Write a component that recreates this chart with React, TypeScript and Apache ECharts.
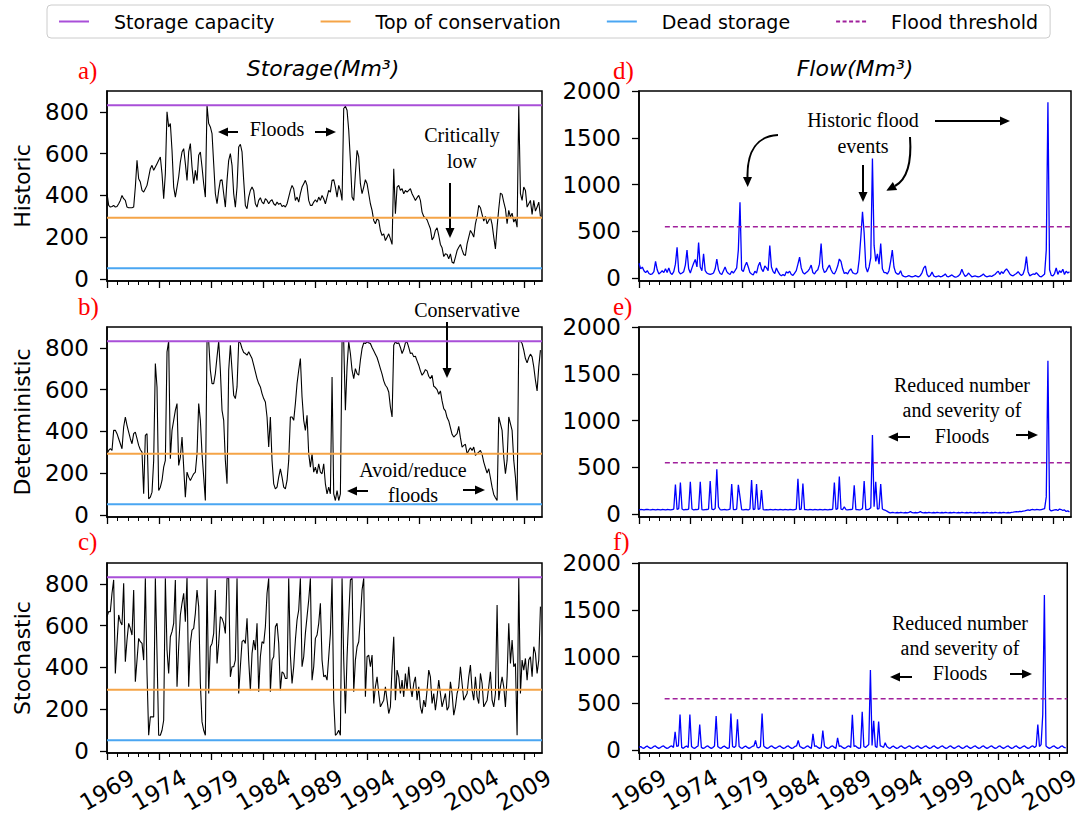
import React, { useEffect, useRef } from "react";
import * as echarts from "echarts";

// ---------- axes ----------
const START_YEAR = 1969;
const END_YEAR = 2010.75;
const STEP = 0.16; // sampling step of the series, in years

const yearTicks = [1969, 1974, 1979, 1984, 1989, 1994, 1999, 2004, 2009];
const minorYearTicks = [
  1969, 1970, 1971, 1972, 1973, 1974, 1975, 1976, 1977, 1978, 1979, 1980, 1981, 1982,
  1983, 1984, 1985, 1986, 1987, 1988, 1989, 1990, 1991, 1992, 1993, 1994, 1995, 1996,
  1997, 1998, 1999, 2000, 2001, 2002, 2003, 2004, 2005, 2006, 2007, 2008, 2009, 2010,
];
const storageTicks = [0, 200, 400, 600, 800];
const flowTicks = [0, 500, 1000, 1500, 2000];

// ---------- reference levels ----------
const STORAGE_CAPACITY = 832;
const TOP_OF_CONSERVATION = 293;
const DEAD_STORAGE = 51;
const FLOOD_THRESHOLD = 550;
const FLOOD_THRESHOLD_START = 1971.5;

// ---------- series (Mm3) ----------
const historicStorage = [
  410, 352, 344, 347, 352, 344, 347, 360, 376, 400,
  384, 376, 344, 341, 341, 341, 344, 440, 568, 480,
  464, 424, 416, 432, 448, 488, 528, 544, 520, 536,
  552, 568, 584, 504, 384, 504, 800, 728, 744, 616,
  440, 392, 440, 488, 560, 608, 624, 552, 472, 608,
  648, 536, 456, 520, 472, 592, 608, 536, 456, 392,
  832, 744, 728, 696, 552, 408, 360, 424, 472, 475,
  408, 344, 472, 568, 600, 544, 408, 344, 440, 632,
  645, 608, 472, 352, 336, 392, 424, 440, 424, 360,
  344, 376, 389, 368, 360, 384, 376, 360, 373, 379,
  360, 352, 368, 357, 363, 347, 352, 344, 360, 392,
  424, 448, 432, 376, 392, 368, 408, 440, 456, 472,
  448, 376, 352, 352, 368, 379, 368, 392, 376, 400,
  384, 360, 392, 424, 416, 472, 475, 440, 392, 448,
  424, 376, 816, 827, 808, 712, 568, 392, 376, 504,
  616, 584, 456, 408, 440, 475, 456, 408, 360, 328,
  280, 264, 288, 280, 232, 208, 216, 184, 200, 216,
  192, 165, 528, 312, 440, 448, 424, 432, 408, 424,
  416, 424, 432, 408, 392, 376, 389, 400, 376, 320,
  299, 293, 283, 261, 240, 187, 200, 232, 245, 208,
  165, 149, 107, 120, 117, 96, 120, 80, 75, 104,
  136, 152, 165, 139, 117, 112, 168, 200, 232, 219,
  200, 264, 299, 352, 341, 309, 277, 299, 264, 280,
  296, 261, 200, 144, 248, 336, 411, 405, 368, 336,
  264, 328, 296, 315, 272, 288, 248, 832, 408, 376,
  440, 424, 344, 360, 376, 309, 376, 325, 344, 368,
  299,
];

const deterministicStorage = [
  293, 309, 317, 309, 405, 405, 389, 365, 341, 317,
  421, 469, 429, 397, 365, 341, 389, 397, 365, 333,
  312, 301, 101, 381, 389, 77, 85, 109, 261, 725,
  613, 117, 133, 165, 229, 261, 781, 832, 269, 405,
  453, 501, 533, 237, 277, 373, 229, 85, 205, 181,
  165, 181, 197, 205, 293, 533, 453, 293, 181, 69,
  832, 832, 693, 629, 629, 677, 757, 832, 693, 501,
  453, 261, 149, 693, 813, 693, 573, 557, 613, 829,
  824, 797, 778, 773, 765, 781, 765, 749, 717, 685,
  653, 629, 613, 581, 557, 541, 469, 325, 469, 261,
  149, 125, 133, 181, 221, 181, 133, 125, 165, 261,
  469, 469, 453, 533, 629, 693, 749, 565, 453, 405,
  477, 293, 229, 293, 205, 229, 197, 245, 205, 197,
  245, 149, 101, 133, 101, 661, 101, 69, 117, 69,
  101, 832, 829, 501, 709, 829, 773, 693, 653, 701,
  677, 669, 741, 797, 824, 821, 829, 824, 821, 802,
  786, 770, 754, 728, 701, 674, 642, 621, 610, 589,
  517, 469, 813, 829, 821, 824, 802, 773, 792, 824,
  829, 802, 773, 776, 757, 760, 738, 717, 690, 669,
  680, 696, 690, 664, 653, 669, 616, 610, 600, 578,
  594, 546, 509, 498, 466, 450, 418, 386, 373, 381,
  389, 424, 370, 325, 333, 338, 293, 309, 322, 309,
  325, 285, 293, 301, 309, 290, 253, 226, 200, 221,
  178, 133, 98, 82, 69, 469, 437, 405, 277, 197,
  261, 469, 437, 405, 261, 181, 69, 832, 832, 821,
  789, 749, 728, 754, 770, 757, 709, 645, 594, 709,
  789,
];

const stochasticStorage = [
  643, 667, 667, 755, 819, 371, 515, 651, 619, 603,
  803, 427, 531, 611, 587, 555, 771, 331, 435, 539,
  523, 515, 435, 827, 371, 75, 163, 163, 163, 827,
  467, 75, 75, 99, 147, 827, 483, 371, 547, 571,
  611, 819, 307, 499, 651, 707, 755, 619, 832, 307,
  515, 579, 587, 659, 771, 691, 323, 139, 99, 75,
  827, 275, 499, 515, 563, 771, 419, 515, 643, 635,
  611, 563, 827, 827, 355, 403, 403, 435, 827, 275,
  403, 523, 531, 515, 635, 435, 291, 467, 531, 483,
  611, 283, 451, 523, 515, 595, 755, 827, 283, 435,
  451, 595, 611, 515, 291, 379, 371, 347, 347, 827,
  459, 323, 403, 531, 627, 675, 827, 403, 451, 563,
  643, 723, 827, 339, 403, 539, 555, 611, 707, 435,
  355, 363, 339, 451, 563, 827, 243, 75, 83, 99,
  75, 827, 435, 179, 451, 643, 819, 827, 283, 435,
  499, 523, 635, 771, 827, 259, 451, 459, 403, 459,
  227, 307, 355, 275, 211, 227, 243, 307, 243, 179,
  211, 403, 547, 243, 387, 355, 275, 339, 259, 371,
  291, 403, 307, 259, 323, 355, 243, 307, 211, 179,
  243, 211, 291, 387, 355, 227, 275, 195, 259, 339,
  275, 211, 243, 275, 195, 211, 331, 275, 171, 211,
  275, 307, 403, 323, 243, 259, 275, 355, 411, 291,
  243, 355, 259, 227, 371, 323, 211, 227, 243, 307,
  379, 243, 211, 275, 699, 243, 307, 355, 307, 211,
  355, 611, 419, 531, 403, 419, 75, 832, 275, 435,
  387, 443, 339, 435, 451, 355, 499, 467, 371, 435,
  691,
];

const historicFlow = [
  160, 100, 118, 80, 60, 80, 50, 40, 45, 70,
  180, 90, 45, 60, 80, 60, 100, 60, 110, 55,
  40, 70, 150, 330, 70, 45, 55, 70, 140, 300,
  100, 55, 110, 160, 200, 120, 380, 120, 80, 260,
  80, 55, 45, 40, 45, 55, 100, 205, 90, 50,
  40, 80, 120, 70, 50, 40, 75, 55, 80, 110,
  300, 810, 90, 70, 130, 170, 120, 60, 45, 35,
  75, 55, 130, 170, 100, 70, 130, 110, 80, 350,
  120, 70, 50, 110, 70, 40, 25, 40, 25, 70,
  55, 75, 40, 30, 55, 80, 150, 225, 110, 60,
  45, 60, 75, 100, 140, 60, 45, 75, 90, 150,
  370, 110, 60, 75, 110, 140, 90, 55, 45, 80,
  130, 205, 180, 100, 50, 60, 45, 80, 100, 60,
  50, 45, 60, 200, 440, 710, 480, 120, 65, 120,
  220, 1280, 350, 180, 260, 150, 370, 100, 60, 60,
  45, 80, 180, 300, 120, 60, 45, 45, 80, 30,
  20, 15, 20, 28, 18, 15, 20, 28, 18, 15,
  30, 60, 110, 130, 40, 15, 30, 65, 25, 15,
  18, 25, 15, 20, 30, 45, 20, 15, 25, 35,
  20, 12, 15, 25, 45, 95, 50, 20, 30, 55,
  35, 15, 20, 25, 18, 15, 20, 30, 45, 25,
  15, 20, 25, 18, 30, 40, 60, 75, 40, 70,
  50, 80, 100, 75, 45, 30, 25, 40, 50, 70,
  45, 30, 45, 100, 230, 70, 25, 35, 45, 40,
  60, 40, 20, 15, 30, 45, 300, 1880, 90, 30,
  25, 50, 110, 40, 80, 60, 95, 40, 75, 55,
  70,
];

const deterministicFlow = [
  45, 50, 48, 45, 50, 52, 48, 45, 50, 48,
  45, 50, 48, 45, 50, 48, 45, 50, 48, 45,
  50, 55, 317, 50, 60, 339, 55, 45, 50, 48,
  55, 346, 55, 45, 50, 48, 55, 346, 50, 45,
  48, 50, 55, 353, 55, 48, 60, 481, 78, 50,
  45, 48, 50, 45, 48, 55, 321, 50, 48, 55,
  314, 185, 50, 45, 48, 50, 45, 55, 364, 50,
  55, 321, 50, 60, 257, 50, 45, 48, 45, 50,
  48, 45, 50, 48, 45, 50, 48, 45, 50, 48,
  45, 50, 48, 45, 50, 55, 378, 50, 55, 328,
  50, 48, 45, 50, 48, 45, 50, 48, 45, 50,
  48, 45, 50, 48, 45, 50, 48, 55, 339, 50,
  60, 403, 55, 50, 78, 50, 45, 48, 50, 55,
  310, 50, 48, 45, 50, 60, 353, 50, 48, 55,
  70, 845, 80, 346, 55, 60, 321, 55, 45, 40,
  30, 18, 15, 20, 16, 14, 18, 15, 20, 16,
  14, 18, 15, 20, 28, 16, 14, 18, 15, 20,
  28, 16, 14, 18, 15, 20, 16, 14, 18, 15,
  20, 16, 14, 18, 15, 20, 16, 14, 18, 15,
  20, 16, 14, 18, 15, 20, 16, 14, 18, 15,
  20, 16, 14, 18, 15, 20, 16, 14, 18, 15,
  20, 16, 14, 18, 15, 20, 16, 14, 18, 15,
  20, 16, 14, 18, 15, 20, 22, 25, 28, 24,
  30, 28, 32, 35, 40, 45, 40, 48, 50, 45,
  50, 48, 45, 50, 55, 60, 185, 1640, 50, 35,
  40, 45, 50, 40, 55, 50, 40, 45, 30, 35,
  25,
];

const stochasticFlow = [
  30, 40, 25, 20, 35, 45, 30, 20, 25, 40,
  45, 30, 20, 28, 40, 45, 30, 20, 25, 40,
  45, 30, 196, 40, 45, 382, 30, 20, 35, 45,
  30, 382, 40, 25, 20, 35, 45, 275, 30, 20,
  25, 40, 45, 30, 20, 28, 45, 364, 40, 25,
  20, 35, 45, 30, 20, 25, 393, 40, 30, 45,
  329, 40, 25, 20, 35, 45, 30, 20, 28, 40,
  45, 104, 30, 25, 40, 393, 45, 30, 20, 25,
  40, 45, 30, 20, 28, 40, 45, 30, 20, 25,
  40, 45, 30, 20, 25, 40, 45, 104, 40, 30,
  20, 25, 40, 45, 30, 20, 175, 40, 45, 30,
  20, 28, 211, 45, 30, 20, 25, 40, 45, 30,
  20, 132, 40, 45, 30, 20, 25, 40, 45, 30,
  379, 40, 45, 30, 20, 25, 411, 40, 30, 45,
  60, 857, 50, 314, 40, 30, 307, 45, 40, 30,
  79, 40, 25, 20, 35, 45, 30, 20, 25, 40,
  45, 30, 20, 28, 40, 45, 30, 20, 25, 40,
  45, 30, 20, 28, 40, 45, 30, 20, 25, 40,
  45, 30, 20, 28, 40, 45, 30, 20, 25, 40,
  45, 30, 20, 28, 40, 45, 30, 20, 25, 40,
  45, 30, 20, 28, 40, 45, 30, 20, 25, 40,
  45, 30, 20, 28, 40, 45, 30, 20, 25, 40,
  45, 30, 20, 28, 40, 45, 30, 20, 25, 40,
  45, 30, 20, 28, 40, 45, 30, 20, 25, 40,
  45, 30, 45, 275, 40, 60, 379, 1657, 45, 30,
  20, 28, 40, 45, 30, 20, 25, 40, 45, 30,
  25,
];

const rowNames = ["Historic", "Deterministic", "Stochastic"];
const storageSeries = [historicStorage, deterministicStorage, stochasticStorage];
const flowSeries = [historicFlow, deterministicFlow, stochasticFlow];
const panelLetters = [["a)", "d)"], ["b)", "e)"], ["c)", "f)"]];

// ---------- styling ----------
const C_CAPACITY = "#a94fd8";
const C_CONSERVATION = "#f5a447";
const C_DEAD = "#4aa6f2";
const C_FLOOD = "#a0209c";
const SANS = "DejaVu Sans";
const SERIF = "Liberation Serif";
const TICK_FONT = 23;

const GRID_TOPS = [91, 327, 563];
const GRID_H = 190;
const LEFT_X = 107;
const LEFT_W = 435;
const RIGHT_X = 639;
const RIGHT_W = 432;

const SOLID_ICON = "path://M0,0h30v2h-30z";
const DASH_ICON = "path://M0,0h4v2h-4zM6.5,0h4v2h-4zM13,0h4v2h-4zM19.5,0h4v2h-4zM26,0h4v2h-4z";

const toPairs = (vals: number[]) =>
  vals.map((v, i) => [Math.round((START_YEAR + STEP * i) * 100) / 100, v]);

function arrow(x1: number, y1: number, x2: number, y2: number) {
  const a = Math.atan2(y2 - y1, x2 - x1);
  const L = 10;
  const W = 4.5;
  const bx = x2 - L * Math.cos(a);
  const by = y2 - L * Math.sin(a);
  const px = -Math.sin(a);
  const py = Math.cos(a);
  return [
    { type: "line", shape: { x1, y1, x2: bx, y2: by }, style: { stroke: "#000", lineWidth: 2 } },
    {
      type: "polygon",
      shape: { points: [[x2, y2], [bx + px * W, by + py * W], [bx - px * W, by - py * W]] },
      style: { fill: "#000" },
    },
  ];
}

function curvedArrow(
  x1: number, y1: number, c1x: number, c1y: number, c2x: number, c2y: number, ex: number, ey: number
) {
  const a = Math.atan2(ey - c2y, ex - c2x);
  const L = 10;
  const W = 4.5;
  const tx = ex + L * Math.cos(a);
  const ty = ey + L * Math.sin(a);
  const px = -Math.sin(a);
  const py = Math.cos(a);
  return [
    {
      type: "bezierCurve",
      shape: { x1, y1, cpx1: c1x, cpy1: c1y, cpx2: c2x, cpy2: c2y, x2: ex, y2: ey },
      style: { stroke: "#000", lineWidth: 2, fill: null },
    },
    {
      type: "polygon",
      shape: { points: [[tx, ty], [ex + px * W, ey + py * W], [ex - px * W, ey - py * W]] },
      style: { fill: "#000" },
    },
  ];
}

function label(text: string, x: number, y: number, size = 20, extra: any = {}) {
  return {
    type: "text",
    x,
    y,
    style: {
      text,
      fontSize: size,
      fontFamily: SERIF,
      fill: "#000",
      align: "center",
      verticalAlign: "middle",
      ...extra,
    },
  };
}

function buildOption() {
  const grid: any[] = [];
  const xAxis: any[] = [];
  const yAxis: any[] = [];
  const series: any[] = [];

  const axisLine = { show: true, onZero: false, lineStyle: { color: "#000", width: 1.5 } };
  const plain = (v: number) => String(v);

  for (let col = 0; col < 2; col++) {
    for (let row = 0; row < 3; row++) {
      const g = grid.length;
      grid.push({
        left: col === 0 ? LEFT_X : RIGHT_X,
        width: col === 0 ? LEFT_W : RIGHT_W,
        top: GRID_TOPS[row],
        height: GRID_H,
        show: true,
        borderColor: "#000",
        borderWidth: 1.5,
        containLabel: false,
      });
      const showLabels = row === 2;
      xAxis.push({
        type: "value",
        gridIndex: g,
        position: "bottom",
        min: START_YEAR,
        max: END_YEAR,
        axisLine,
        axisTick: { show: true, customValues: yearTicks, length: 7, lineStyle: { color: "#000", width: 1.3 } },
        axisLabel: {
          show: showLabels,
          customValues: yearTicks,
          formatter: plain,
          rotate: 30,
          fontSize: TICK_FONT,
          fontFamily: SANS,
          color: "#000",
          margin: 37,
          align: "center",
          verticalAlign: "middle",
        },
        splitLine: { show: false },
      });
      xAxis.push({
        type: "value",
        gridIndex: g,
        position: "bottom",
        min: START_YEAR,
        max: END_YEAR,
        axisLine: { show: false, onZero: false },
        axisTick: { show: true, customValues: minorYearTicks, length: 4, lineStyle: { color: "#000", width: 1 } },
        axisLabel: { show: false },
        splitLine: { show: false },
      });
      const isStorage = col === 0;
      const ticks = isStorage ? storageTicks : flowTicks;
      yAxis.push({
        type: "value",
        gridIndex: g,
        min: isStorage ? -10 : -30,
        max: isStorage ? 900 : 2000,
        axisLine,
        axisTick: { show: true, customValues: ticks, length: 7, lineStyle: { color: "#000", width: 1.3 } },
        axisLabel: {
          customValues: ticks,
          formatter: plain,
          fontSize: TICK_FONT,
          fontFamily: SANS,
          color: "#000",
          margin: 18,
        },
        splitLine: { show: false },
      });
      const xi = 2 * g;
      if (isStorage) {
        series.push({
          type: "line",
          name: rowNames[row] + " storage",
          xAxisIndex: xi,
          yAxisIndex: g,
          data: toPairs(storageSeries[row]),
          showSymbol: false,
          symbol: "none",
          lineStyle: { color: "#000", width: 1.1 },
          z: 2,
        });
        const refs: [string, number, string][] = [
          ["Storage capacity", STORAGE_CAPACITY, C_CAPACITY],
          ["Top of conservation", TOP_OF_CONSERVATION, C_CONSERVATION],
          ["Dead storage", DEAD_STORAGE, C_DEAD],
        ];
        refs.forEach(([name, v, c]) =>
          series.push({
            type: "line",
            name,
            xAxisIndex: xi,
            yAxisIndex: g,
            data: [[START_YEAR, v], [END_YEAR, v]],
            symbol: "none",
            color: c,
            lineStyle: { color: c, width: 2 },
            z: 3,
          })
        );
      } else {
        series.push({
          type: "line",
          name: rowNames[row] + " flow",
          xAxisIndex: xi,
          yAxisIndex: g,
          data: toPairs(flowSeries[row]),
          showSymbol: false,
          symbol: "none",
          lineStyle: { color: "#0000ff", width: 1.3 },
          z: 2,
        });
        series.push({
          type: "line",
          name: "Flood threshold",
          xAxisIndex: xi,
          yAxisIndex: g,
          data: [[FLOOD_THRESHOLD_START, FLOOD_THRESHOLD], [END_YEAR, FLOOD_THRESHOLD]],
          symbol: "none",
          color: C_FLOOD,
          lineStyle: { color: C_FLOOD, width: 1.5, type: [5, 3] },
          z: 3,
        });
      }
    }
  }

  const graphics: any[] = [];
  // titles
  graphics.push(
    label("Storage(Mm³)", 323, 68, 22, { fontFamily: SANS, fontStyle: "italic" }),
    label("Flow(Mm³)", 855, 68, 22, { fontFamily: SANS, fontStyle: "italic" })
  );
  // panel letters
  const letterY = [70, 306, 541];
  for (let r = 0; r < 3; r++) {
    graphics.push(label(panelLetters[r][0], 78, letterY[r], 25, { fill: "#ff0000", align: "left" }));
    graphics.push(label(panelLetters[r][1], 613, letterY[r], 25, { fill: "#ff0000", align: "left" }));
  }
  // row names
  const rowCenters = [186, 422, 658];
  rowNames.forEach((n, r) =>
    graphics.push({
      type: "text",
      x: 22,
      y: rowCenters[r],
      rotation: Math.PI / 2,
      style: { text: n, fontSize: 22, fontFamily: SANS, fill: "#000", align: "center", verticalAlign: "middle" },
    })
  );
  // annotations panel a
  graphics.push(label("Floods", 277, 129));
  graphics.push(...arrow(238, 132, 218, 132), ...arrow(315, 132, 336, 132));
  graphics.push(label("Critically", 462, 135), label("low", 462, 161));
  graphics.push(...arrow(450, 183, 450, 238));
  // panel b
  graphics.push(label("Conservative", 467, 310));
  graphics.push(...arrow(447, 322, 447, 378));
  graphics.push(label("Avoid/reduce", 413, 470), label("floods", 413, 495));
  graphics.push(...arrow(368, 491, 347, 491), ...arrow(463, 490, 485, 490));
  // panel d
  graphics.push(label("Historic flood", 863, 120), label("events", 863, 146));
  graphics.push(...arrow(935, 121, 1010, 121));
  graphics.push(...arrow(863, 165, 863, 202));
  graphics.push(...curvedArrow(778, 135, 758, 136, 747, 150, 747.5, 177));
  graphics.push(...curvedArrow(910, 137, 912, 165, 906, 180, 895, 186));
  // panel e
  graphics.push(
    label("Reduced number", 962, 385),
    label("and severity of", 962, 410),
    label("Floods", 962, 436)
  );
  graphics.push(...arrow(910, 437, 888, 437), ...arrow(1016, 435, 1038, 435));
  // panel f
  graphics.push(
    label("Reduced number", 960, 623),
    label("and severity of", 960, 648),
    label("Floods", 960, 673)
  );
  graphics.push(...arrow(912, 677, 890, 677), ...arrow(1010, 674, 1032, 674));

  return {
    animation: false,
    backgroundColor: "#ffffff",
    legend: {
      data: [
        { name: "Storage capacity", icon: SOLID_ICON },
        { name: "Top of conservation", icon: SOLID_ICON },
        { name: "Dead storage", icon: SOLID_ICON },
        { name: "Flood threshold", icon: DASH_ICON },
      ],
      left: 47,
      top: 5,
      itemWidth: 30,
      itemHeight: 2,
      itemGap: 46,
      padding: [7, 12],
      borderColor: "#cccccc",
      borderWidth: 1,
      borderRadius: 4,
      textStyle: { fontSize: 19, fontFamily: SANS, color: "#000", padding: [0, 0, 0, 20] },
    },
    grid,
    xAxis,
    yAxis,
    series,
    graphic: graphics,
  };
}

export default function App() {
  const ref = useRef<HTMLDivElement>(null);
  useEffect(() => {
    document.body.style.margin = "0";
    if (!ref.current) return;
    const chart = echarts.init(ref.current, undefined, { renderer: "svg" });
    chart.setOption(buildOption() as any);
    return () => chart.dispose();
  }, []);
  return <div ref={ref} style={{ width: 1083, height: 819 }} />;
}
